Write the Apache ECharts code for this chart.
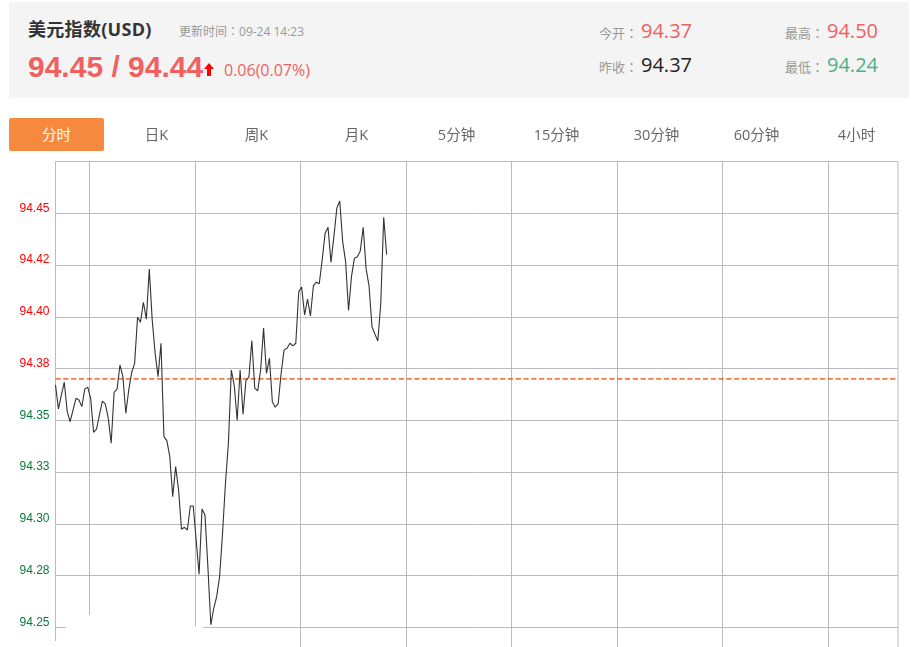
<!DOCTYPE html>
<html>
    <head>
        <meta charset="utf-8">
        <script src="https://cdn.jsdelivr.net/npm/echarts@6/dist/echarts.min.js"></script>
        <style>
            html, body { margin: 0; padding: 0; background: #fff; overflow: hidden; }
            body { font-family: "Open Sans", "Noto Sans CJK SC", sans-serif; }
            #main { position: absolute; left: 0; top: 0; width: 912px; height: 647px; }
            #head { position: absolute; left: 9px; top: 2px; width: 900px; height: 96px; background: #f4f4f4; }
            .t { position: absolute; white-space: nowrap; line-height: 1; }
            .c { font-family: "Noto Sans CJK TC", sans-serif; }
            .gray { color: #999; font-size: 13px; }
            .num { font-size: 20px; }
            .red { color: #f25f5f; }
            .tab { position: absolute; top: 118px; width: 95px; height: 33px; line-height: 33px; text-align: center; font-size: 14.5px; color: #666; }
            .tab.on { background: #f58a3e; color: #fff; border-radius: 2px; }
        </style>
    </head>
    <body>
        <div id="main"></div>
        <div id="head"></div>
        <div class="t" style="left:28px;top:20px;font-size:18px;font-weight:bold;color:#333;letter-spacing:.3px">美元指数(USD)</div>
        <div class="t" style="left:179px;top:25px;font-size:12px;color:#999">更新时间<span class="c">：</span>09-24 14:23</div>
        <div class="t red" style="left:28px;top:50px;font:bold 30px 'Liberation Sans'">94.45 / 94.44</div>
        <svg style="position:absolute;left:203px;top:63px" width="12" height="14"><path d="M6 0 L11 6 L8 6 L8 13 L4 13 L4 6 L1 6 Z" fill="#f00"/></svg>
        <div class="t red" style="left:224px;top:62px;font-size:16px">0.06(0.07%)</div>

        <div class="t gray" style="left:599px;top:26px">今开<span class="c">：</span></div>
        <div class="t num red" style="left:641px;top:21px">94.37</div>
        <div class="t gray" style="left:599px;top:60px">昨收<span class="c">：</span></div>
        <div class="t num" style="left:641px;top:55px;color:#222">94.37</div>
        <div class="t gray" style="left:785px;top:26px">最高<span class="c">：</span></div>
        <div class="t num red" style="left:827px;top:21px">94.50</div>
        <div class="t gray" style="left:785px;top:60px">最低<span class="c">：</span></div>
        <div class="t num" style="left:827px;top:55px;color:#4caf87">94.24</div>

        <div id="tabs"></div>

        <script type="text/javascript">
            var tabNames = ['分时', '日K', '周K', '月K', '5分钟', '15分钟', '30分钟', '60分钟', '4小时'];

            // 5分钟一个点，每天288个点
            var prices = [
                94.3671, 94.3555, 94.3622, 94.3684, 94.3542, 94.3493, 94.3550, 94.3606, 94.3598, 94.3566,
                94.3651, 94.3660, 94.3606, 94.3442, 94.3457, 94.3526, 94.3593, 94.3579, 94.3510, 94.3389,
                94.3635, 94.3650, 94.3767, 94.3711, 94.3534, 94.3647, 94.3731, 94.3775, 94.3998, 94.3974,
                94.4070, 94.3988, 94.4230, 94.3985, 94.3824, 94.3711, 94.3872, 94.3421, 94.3402, 94.3324,
                94.3131, 94.3276, 94.3164, 94.2974, 94.2983, 94.2970, 94.3086, 94.3086, 94.2922, 94.2756,
                94.3072, 94.3043, 94.2793, 94.2512, 94.2592, 94.2648, 94.2745, 94.2954, 94.3196, 94.3389,
                94.3743, 94.3668, 94.3500, 94.3743, 94.3529, 94.3693, 94.3709, 94.3885, 94.3655, 94.3642,
                94.3743, 94.3945, 94.3727, 94.3800, 94.3590, 94.3563, 94.3582, 94.3727, 94.3840, 94.3848,
                94.3872, 94.3859, 94.3872, 94.4121, 94.4143, 94.4009, 94.4085, 94.4004, 94.4149, 94.4167,
                94.4159, 94.4274, 94.4403, 94.4432, 94.4263, 94.4387, 94.4524, 94.4559, 94.4363, 94.4266,
                94.4030, 94.4194, 94.4283, 94.4290, 94.4318, 94.4432, 94.4230, 94.4149, 94.3952, 94.3917,
                94.3883, 94.4065, 94.4481, 94.4300
            ];
            var prevClose = 94.37;
            var yTicks = [94.25, 94.275, 94.3, 94.325, 94.35, 94.375, 94.4, 94.425, 94.45];
            var yLabels = ['94.25', '94.28', '94.30', '94.33', '94.35', '94.38', '94.40', '94.42', '94.45'];
            var xTicks = [11.6, 47.6, 83.6, 119.6, 155.6, 191.6, 227.6, 263.6];

            tabNames.forEach(function (name, i) {
                var d = document.createElement('div');
                d.className = i === 0 ? 'tab on' : 'tab';
                d.style.left = (9 + 100 * i) + 'px';
                d.textContent = name;
                document.getElementById('tabs').appendChild(d);
            });

            var lineColor = '#bbb';
            var myChart = echarts.init(document.getElementById('main'));
            myChart.setOption({
                animation: false,
                grid: { left: 55.5, width: 842.5, top: 161.5, height: 489, outerBoundsMode: 'none', show: true, borderColor: lineColor, borderWidth: 1, backgroundColor: 'transparent' },
                xAxis: {
                    type: 'value', min: 0, max: 287.5,
                    axisLine: { show: false }, axisLabel: { show: false },
                    axisTick: { show: false, customValues: xTicks },
                    splitLine: { show: true, lineStyle: { color: lineColor, width: 1 } }
                },
                yAxis: {
                    type: 'value', min: 94.2388, max: 94.475,
                    axisLine: { show: false },
                    axisTick: { show: false, customValues: yTicks },
                    axisLabel: {
                        customValues: yTicks, margin: 6, fontSize: 12, fontFamily: 'Liberation Sans',
                        verticalAlign: 'bottom', lineHeight: 10,
                        color: function (v) { return +v > prevClose ? '#f00' : '#0a7a3c'; },
                        formatter: function (v) { return yLabels[yTicks.indexOf(v)]; }
                    },
                    splitLine: { show: true, lineStyle: { color: lineColor, width: 1 } }
                },
                series: [{
                    type: 'line', showSymbol: false, symbol: 'none', z: 5,
                    lineStyle: { color: '#333', width: 1.1 },
                    data: prices.map(function (p, i) { return [i, p]; })
                }, {
                    // 昨收线
                    type: 'line', showSymbol: false, symbol: 'none', z: 4,
                    lineStyle: { color: '#e84800', type: 'dashed', width: 1.3 },
                    data: [[0, prevClose], [287.5, prevClose]]
                }],
                // 原图底部的空白
                graphic: [
                    { type: 'rect', z: 100, shape: { x: 66, y: 615, width: 124, height: 32 }, style: { fill: '#fff' } },
                    { type: 'rect', z: 100, shape: { x: 190, y: 626.5, width: 13, height: 21 }, style: { fill: '#fff' } },
                    { type: 'rect', z: 100, shape: { x: 54, y: 641, width: 12, height: 6 }, style: { fill: '#fff' } }
                ]
            });
        </script>
    </body>
</html>
